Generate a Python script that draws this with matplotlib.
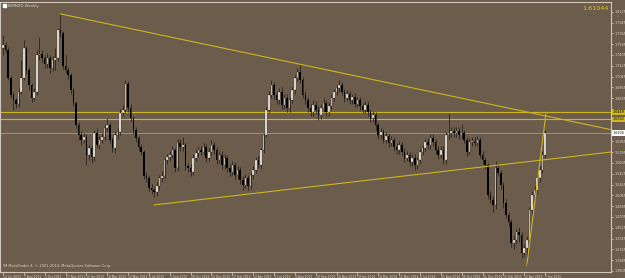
import numpy as np
import matplotlib
matplotlib.use('Agg')
import matplotlib.pyplot as plt
import matplotlib.transforms as mtransforms
from matplotlib.patches import Rectangle

# weekly candles, EURNZD, 12 Jun 2011 .. 7 Jun 2015
symbol_title = 'EURNZD,Weekly'
last_price = 1.61044
first_open = 1.752

close = [
    1.757, 1.749, 1.702, 1.674, 1.665, 1.659, 1.679, 1.702, 1.752, 1.715,
    1.690, 1.669, 1.679, 1.740, 1.742, 1.735, 1.725, 1.735, 1.719, 1.732,
    1.735, 1.782, 1.777, 1.722, 1.715, 1.707, 1.682, 1.660, 1.624, 1.607,
    1.599, 1.604, 1.574, 1.585, 1.570, 1.610, 1.590, 1.599, 1.604, 1.619,
    1.624, 1.599, 1.585, 1.607, 1.612, 1.644, 1.649, 1.692, 1.652, 1.635,
    1.615, 1.602, 1.587, 1.579, 1.539, 1.535, 1.519, 1.515, 1.512, 1.522,
    1.535, 1.539, 1.565, 1.570, 1.574, 1.582, 1.552, 1.594, 1.587, 1.590,
    1.555, 1.552, 1.545, 1.569, 1.577, 1.582, 1.579, 1.587, 1.569, 1.579,
    1.590, 1.582, 1.565, 1.574, 1.557, 1.569, 1.552, 1.545, 1.557, 1.540,
    1.549, 1.532, 1.524, 1.535, 1.522, 1.540, 1.549, 1.565, 1.557, 1.582,
    1.607, 1.649, 1.674, 1.690, 1.674, 1.665, 1.679, 1.657, 1.669, 1.652,
    1.665, 1.682, 1.702, 1.712, 1.699, 1.674, 1.665, 1.652, 1.645, 1.657,
    1.649, 1.640, 1.652, 1.660, 1.645, 1.655, 1.669, 1.679, 1.685, 1.690,
    1.679, 1.669, 1.675, 1.665, 1.670, 1.659, 1.665, 1.655, 1.649, 1.657,
    1.645, 1.635, 1.640, 1.624, 1.607, 1.612, 1.599, 1.605, 1.594, 1.599,
    1.587, 1.582, 1.590, 1.579, 1.569, 1.574, 1.562, 1.569, 1.557, 1.565,
    1.579, 1.585, 1.595, 1.590, 1.602, 1.595, 1.582, 1.574, 1.582, 1.565,
    1.607, 1.610, 1.614, 1.610, 1.614, 1.607, 1.610, 1.599, 1.579, 1.595,
    1.597, 1.594, 1.599, 1.574, 1.565, 1.557, 1.507, 1.499, 1.490, 1.552,
    1.544, 1.524, 1.494, 1.474, 1.462, 1.427, 1.432, 1.445, 1.440, 1.410,
    1.419, 1.432, 1.482, 1.507, 1.515, 1.535, 1.549, 1.574, 1.61044]

# wick length above / below the body
upper_wick = [
    0.017, 0.005, 0.005, 0.004, 0.004, 0.003, 0.006, 0.030, 0.013, 0.004,
    0.005, 0.004, 0.006, 0.008, 0.028, 0.006, 0.005, 0.008, 0.006, 0.006,
    0.017, 0.004, 0.027, 0.004, 0.018, 0.005, 0.004, 0.004, 0.003, 0.005,
    0.006, 0.007, 0.004, 0.006, 0.005, 0.006, 0.008, 0.006, 0.006, 0.007,
    0.012, 0.005, 0.005, 0.006, 0.006, 0.006, 0.008, 0.007, 0.005, 0.006,
    0.004, 0.005, 0.004, 0.005, 0.003, 0.006, 0.005, 0.006, 0.005, 0.006,
    0.005, 0.008, 0.005, 0.006, 0.007, 0.006, 0.004, 0.006, 0.007, 0.013,
    0.004, 0.006, 0.006, 0.006, 0.007, 0.006,
    0.006, 0.007, 0.005, 0.006, 0.008, 0.006, 0.005, 0.007, 0.006, 0.006,
    0.005, 0.006, 0.007, 0.005, 0.006, 0.005, 0.006, 0.007, 0.005, 0.006,
    0.006, 0.005, 0.007, 0.004, 0.004, 0.005, 0.006, 0.008, 0.006, 0.007,
    0.006, 0.008, 0.006, 0.007, 0.006, 0.005, 0.005, 0.006, 0.013, 0.005,
    0.006, 0.005, 0.006, 0.008, 0.006, 0.007, 0.006, 0.008, 0.006, 0.007,
    0.006, 0.005, 0.006, 0.008, 0.006, 0.005, 0.007, 0.006, 0.006, 0.007,
    0.006, 0.006, 0.005, 0.007, 0.006, 0.005, 0.007, 0.005, 0.004, 0.006,
    0.005, 0.007, 0.006, 0.006, 0.005, 0.006, 0.007, 0.005, 0.006, 0.006,
    0.005, 0.007, 0.006, 0.006, 0.005, 0.006, 0.006, 0.007, 0.006, 0.006,
    0.005, 0.006, 0.007, 0.006, 0.005, 0.033, 0.006, 0.007, 0.006, 0.006,
    0.015, 0.006, 0.005, 0.007, 0.006, 0.006, 0.007, 0.005, 0.006, 0.005,
    0.004, 0.006, 0.006, 0.012, 0.007, 0.005, 0.005, 0.006, 0.005, 0.005,
    0.008, 0.006, 0.009, 0.006, 0.007, 0.006, 0.005, 0.006, 0.007, 0.006,
    0.006, 0.007, 0.005]

lower_wick = [
    0.012, 0.006, 0.003, 0.006, 0.017, 0.007, 0.005, 0.004, 0.004, 0.006,
    0.008, 0.007, 0.005, 0.006, 0.008, 0.006, 0.007, 0.006, 0.008, 0.005,
    0.017, 0.005, 0.006, 0.005, 0.005, 0.006, 0.006, 0.005, 0.006, 0.008,
    0.008, 0.006, 0.017, 0.008, 0.010, 0.006, 0.005, 0.006, 0.006, 0.005,
    0.006, 0.006, 0.007, 0.008, 0.006, 0.005, 0.006, 0.004, 0.006, 0.005,
    0.006, 0.006, 0.005, 0.006, 0.005, 0.007, 0.006, 0.006, 0.008, 0.006,
    0.006, 0.006, 0.005, 0.006, 0.006, 0.006, 0.006, 0.005, 0.006, 0.006,
    0.007, 0.006, 0.007, 0.005, 0.006, 0.006,
    0.006, 0.005, 0.007, 0.006, 0.006, 0.007, 0.006, 0.005, 0.007, 0.006,
    0.006, 0.007, 0.005, 0.006, 0.006, 0.007, 0.008, 0.006, 0.007, 0.005,
    0.006, 0.006, 0.005, 0.006, 0.005, 0.004, 0.006, 0.006, 0.007, 0.006,
    0.006, 0.006, 0.007, 0.006, 0.006, 0.005, 0.006, 0.005, 0.006, 0.006,
    0.006, 0.007, 0.006, 0.006, 0.007, 0.008, 0.006, 0.006, 0.007, 0.006,
    0.006, 0.006, 0.005, 0.006, 0.006, 0.007, 0.006, 0.006, 0.007, 0.006,
    0.006, 0.007, 0.006, 0.006, 0.006, 0.007, 0.006, 0.008, 0.006, 0.007,
    0.006, 0.006, 0.007, 0.006, 0.006, 0.007, 0.006, 0.006, 0.007, 0.006,
    0.007, 0.006, 0.008, 0.006, 0.006, 0.006, 0.005, 0.006, 0.006, 0.006,
    0.006, 0.007, 0.006, 0.006, 0.006, 0.006, 0.006, 0.006, 0.006, 0.006,
    0.006, 0.006, 0.007, 0.006, 0.006, 0.006, 0.006, 0.006, 0.006, 0.007,
    0.006, 0.006, 0.012, 0.006, 0.006, 0.007, 0.008, 0.006, 0.006, 0.007,
    0.010, 0.006, 0.012, 0.008, 0.007, 0.029, 0.006, 0.006, 0.006, 0.006,
    0.006, 0.006, 0.006]

date_labels = ['12 Jun 2011', '7 Aug 2011', '2 Oct 2011', '27 Nov 2011', '22 Jan 2012',
               '18 Mar 2012', '13 May 2012', '8 Jul 2012', '2 Sep 2012', '28 Oct 2012',
               '23 Dec 2012', '17 Feb 2013', '14 Apr 2013', '9 Jun 2013', '4 Aug 2013',
               '29 Sep 2013', '24 Nov 2013', '19 Jan 2014', '16 Mar 2014', '11 May 2014',
               '6 Jul 2014', '31 Aug 2014', '26 Oct 2014', '21 Dec 2014', '15 Feb 2015',
               '12 Apr 2015', '7 Jun 2015']
date_label_weeks = list(range(0, 209, 8))

# drawn objects on the chart
resistance_weeks = [22, 114]              # line through the highs of these weeks
support_line = [(58, 1.4905), (208, 1.566)]
steep_line_end = (208.4, 1.645)          # from the April 2015 low
levels = [1.6449, 1.6332]

# ---- build candles
close = np.array(close)
open_ = np.concatenate([[first_open], close[:-1]])
high = np.maximum(open_, close) + np.array(upper_wick)
low = np.minimum(open_, close) - np.array(lower_wick)
weeks = np.arange(len(close))

bg = '#6b5c4c'
fg = '#ddd5c8'
yellow = '#cdb61e'
x_min, x_max = -1.15, 233.3
y_min, y_max = 1.37878, 1.82878

fig = plt.figure(figsize=(6.25, 2.78), dpi=100)
fig.patch.set_facecolor(bg)
ax = fig.add_axes([0, 6 / 278, 611 / 625, 270 / 278])
ax.set_facecolor(bg)
ax.set_xlim(x_min, x_max)
ax.set_ylim(y_min, y_max)

# candles
ax.vlines(weeks, low, high, color='#2b241d', linewidth=0.6, zorder=3)
up = close >= open_
ax.bar(weeks[up], close[up] - open_[up], bottom=open_[up], width=0.6,
       color='#f4f1ec', edgecolor='#2b241d', linewidth=0.2, zorder=4)
ax.bar(weeks[~up], open_[~up] - close[~up], bottom=close[~up], width=0.6,
       color='#000000', linewidth=0, zorder=4)

# trend lines
def ray(x0, y0, x1, y1):
    slope = (y1 - y0) / (x1 - x0)
    return [x0, x_max], [y0, y0 + slope * (x_max - x0)]

w0, w1 = resistance_weeks
xs, ys = ray(w0, high[w0], w1, high[w1])
ax.plot(xs, ys, color=yellow, linewidth=0.8, zorder=5)
(sx0, sy0), (sx1, sy1) = support_line
xs, ys = ray(sx0, sy0, sx1, sy1)
ax.plot(xs, ys, color=yellow, linewidth=0.8, zorder=5)
i_low = int(np.argmin(low))
ax.plot([i_low, steep_line_end[0]], [low[i_low], steep_line_end[1]],
        color=yellow, linewidth=0.8, zorder=5)

for lv in levels:
    ax.axhline(lv, color=yellow, linewidth=0.8, zorder=2)
ax.axhline(last_price, color='#9b9389', linewidth=0.7, zorder=2)

# axes look
for side in ['top', 'bottom', 'right', 'left']:
    ax.spines[side].set_color('#d0c8bc')
    ax.spines[side].set_linewidth(0.8)
ax.yaxis.tick_right()
yt = np.arange(1.3805, 1.8290, 0.018)
boxed = levels + [last_price]
# the price boxes cover the scale labels next to them
ylabels = ['' if min(abs(v - b) for b in boxed) < 0.009 else '%.4f' % v for v in yt]
ax.set_yticks(yt)
ax.set_yticklabels(ylabels)
ax.tick_params(axis='y', colors=fg, labelsize=2.4, length=1.5, width=0.5, pad=0.8)
ax.set_xticks(date_label_weeks)
ax.set_xticklabels(date_labels, ha='left')
ax.tick_params(axis='x', colors=fg, labelsize=2.2, length=2, width=0.5, pad=0.3)

# price boxes on the right scale
trans = mtransforms.blended_transform_factory(ax.transAxes, ax.transData)
for lv in levels:
    ax.text(1.003, lv, '%.4f' % lv, transform=trans, fontsize=2.4, color='black',
            va='center', ha='left', clip_on=False, zorder=10,
            bbox=dict(facecolor=yellow, edgecolor='none', pad=0.5))
ax.text(1.003, last_price, '%.4f' % last_price, transform=trans, fontsize=2.4,
        color='black', va='center', ha='left', clip_on=False, zorder=10,
        bbox=dict(facecolor='white', edgecolor='none', pad=0.5))

# texts
ax.text(0.996, 0.985, '%.5f' % last_price, transform=ax.transAxes, ha='right',
        va='top', fontsize=4.6, color='#e8c81e')
fig.add_artist(Rectangle((3 / 625, 1 - 7 / 278), 3 / 625, 3 / 278,
                         transform=fig.transFigure, color='white'))
fig.text(8 / 625, 1 - 5.5 / 278, symbol_title, fontsize=2.8, color=fg, va='center')
ax.text(0.004, 0.02, 'TM MetaTrader 4, © 2001-2014, MetaQuotes Software Corp.',
        transform=ax.transAxes, fontsize=2.6, color=fg)

fig.savefig('out.png', dpi=100, facecolor=bg)
